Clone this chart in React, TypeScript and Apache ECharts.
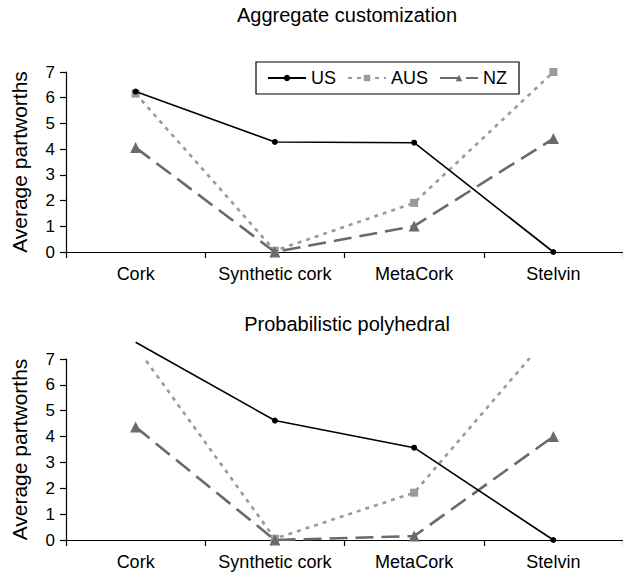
import React, { useEffect, useRef } from "react";
import * as echarts from "echarts";

const categories = ["Cork", "Synthetic cork", "MetaCork", "Stelvin"];
const yTicks = [0, 1, 2, 3, 4, 5, 6, 7];
const titles = ["Aggregate customization", "Probabilistic polyhedral"];
const yName = "Average partworths";
const seriesNames = ["US", "AUS", "NZ"];

// Aggregate customization
const aggUS = [6.24, 4.28, 4.25, 0];
const aggAUS = [6.16, 0.05, 1.91, 7.0];
const aggNZ = [4.06, 0, 1.01, 4.41];

// Probabilistic polyhedral
const probUS = [7.65, 4.62, 3.57, 0];
const probAUS = [7.5, 0.05, 1.83, 8.1];
const probNZ = [4.37, 0, 0.15, 4.0];

const FONT = "'Liberation Sans', Arial, Helvetica, sans-serif";

export default function App() {
  const ref = useRef<HTMLDivElement>(null);
  useEffect(() => {
    if (!ref.current) return;
    const chart = echarts.init(ref.current, undefined, { renderer: "svg" });
    const styles: any = {
      US: {
        color: "#000000",
        symbol: "circle",
        symbolSize: 6,
        lineStyle: { color: "#000000", width: 1.6, type: "solid" },
      },
      AUS: {
        color: "#9a9a9a",
        symbol: "rect",
        symbolSize: 8,
        lineStyle: { color: "#9a9a9a", width: 2.6, type: [4, 5] },
      },
      NZ: {
        color: "#6a6a6a",
        symbol: "triangle",
        symbolSize: 11,
        lineStyle: { color: "#6a6a6a", width: 2.6, type: [18, 8] },
      },
    };
    const mk = (name: string, data: any[], idx: number, clip: boolean) => ({
      name,
      type: "line",
      xAxisIndex: idx,
      yAxisIndex: idx,
      data,
      clip,
      z: name === "US" ? 5 : name === "NZ" ? 4 : 3,
      itemStyle: { color: styles[name].color },
      symbol: styles[name].symbol,
      symbolSize: styles[name].symbolSize,
      lineStyle: styles[name].lineStyle,
    });
    const xAxis = (idx: number) => ({
      type: "category",
      gridIndex: idx,
      data: categories,
      boundaryGap: true,
      axisLine: { show: true, lineStyle: { color: "#000", width: 1.2 } },
      axisTick: { show: true, length: 6, interval: 0, lineStyle: { color: "#000", width: 1.2 } },
      axisLabel: { fontSize: 18, color: "#000", fontFamily: FONT, margin: 13, interval: 0 },
      splitLine: { show: false },
    });
    const yAxis = (idx: number) => ({
      type: "value",
      gridIndex: idx,
      min: yTicks[0],
      max: yTicks[yTicks.length - 1],
      interval: 1,
      name: yName,
      nameLocation: "middle",
      nameRotate: 90,
      nameGap: 36,
      nameTextStyle: { fontSize: 21, color: "#000", fontFamily: FONT },
      axisLine: { show: true, lineStyle: { color: "#000", width: 1.2 } },
      axisTick: { show: true, length: 6, lineStyle: { color: "#000", width: 1.2 } },
      axisLabel: { fontSize: 17, color: "#000", fontFamily: FONT, margin: 11 },
      splitLine: { show: false },
    });
    chart.setOption({
      animation: false,
      backgroundColor: "#ffffff",
      textStyle: { fontFamily: FONT },
      title: [
        {
          text: titles[0],
          left: 347,
          top: 5,
          padding: 0,
          textAlign: "center",
          textStyle: { fontSize: 20, fontWeight: "normal", color: "#000", fontFamily: FONT },
        },
        {
          text: titles[1],
          left: 347,
          top: 314,
          padding: 0,
          textAlign: "center",
          textStyle: { fontSize: 20, fontWeight: "normal", color: "#000", fontFamily: FONT },
        },
      ],
      legend: {
        data: seriesNames,
        left: 256,
        top: 62,
        orient: "horizontal",
        padding: [7, 12, 7, 11],
        borderColor: "#000",
        borderWidth: 1.2,
        itemWidth: 38,
        itemHeight: 8,
        itemGap: 11,
        textStyle: { fontSize: 18, color: "#000", fontFamily: FONT },
      },
      grid: [
        { left: 66, right: -6, top: 72, height: 180 },
        { left: 66, right: -6, top: 359, height: 181 },
      ],
      xAxis: [xAxis(0), xAxis(1)],
      yAxis: [yAxis(0), yAxis(1)],
      series: [
        mk("AUS", aggAUS, 0, false),
        mk("NZ", aggNZ, 0, false),
        mk("US", aggUS, 0, false),
        mk("AUS", probAUS, 1, true),
        mk("NZ", probNZ, 1, true),
        mk(
          "US",
          probUS.map((v, i) => (v > 7 ? { value: v, symbol: "none" } : v)),
          1,
          false
        ),
      ],
    });
    return () => chart.dispose();
  }, []);
  return (
    <div
      ref={ref}
      style={{ position: "fixed", left: 0, top: 0, width: 623, height: 577, overflow: "hidden" }}
    />
  );
}
